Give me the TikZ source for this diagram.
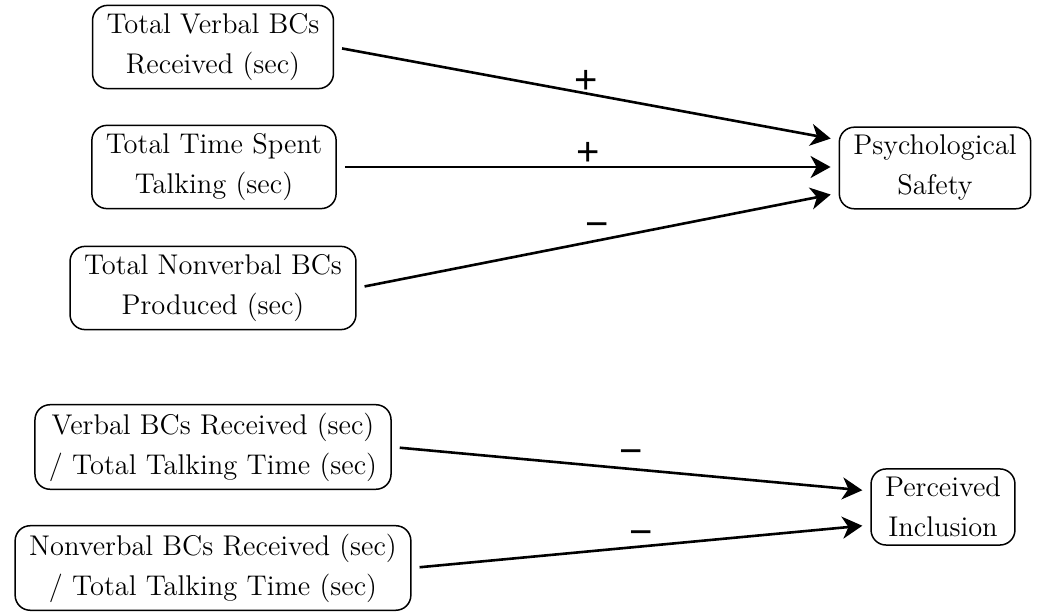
\documentclass[tikz,border=0pt]{standalone}
\usepackage{fontspec}
\newfontfamily\signfont{Liberation Sans}
\usetikzlibrary{arrows.meta}
\begin{document}
\begin{tikzpicture}[x=0.5pt,y=-0.5pt,
  box/.style={draw, line width=0.75pt, rounded corners=7.5pt, align=center,
    inner xsep=7pt, inner ysep=4pt, font=\fontsize{14.25}{20}\selectfont},
  conn/.style={line width=1.3pt, -{Stealth[length=10pt,width=11pt,inset=3pt]},
    shorten <=4pt, shorten >=4pt},
  sign/.style={midway, anchor=center, inner sep=0pt, font=\signfont\fontsize{20}{22}\selectfont}
]
\useasboundingbox (0,0) rectangle (1039,613);
\node[box] (A) at (213,47) {Total Verbal BCs\\Received (sec)};
\node[box] (B) at (214,167) {Total Time Spent\\Talking (sec)};
\node[box] (C) at (213,288) {Total Nonverbal BCs\\Produced (sec)};
\node[box] (P) at (935,168) {Psychological\\Safety};
\node[box] (D) at (213,447) {Verbal BCs Received (sec)\\/ Total Talking Time (sec)};
\node[box] (E) at (213,568) {Nonverbal BCs Received (sec)\\/ Total Talking Time (sec)};
\node[box] (I) at (943,507) {Perceived\\Inclusion};

\draw[conn] (A.east) -- ([yshift=14pt]P.west) node[sign, yshift=6pt] (sa) {+};
\draw[conn] (B.east) -- (B.east -| P.west) node[sign, yshift=6.5pt] (sb) {+};
\draw[conn] (C.east) -- ([yshift=-12.5pt]P.west) node[sign, yshift=5pt] (sc) {−};
\draw[conn] (D.east) -- ([yshift=8pt]I.west) node[sign, yshift=6pt] (sd) {−};
\draw[conn] (E.east) -- ([yshift=-9pt]I.west) node[sign, yshift=4pt] (se) {−};
\end{tikzpicture}
\end{document}
